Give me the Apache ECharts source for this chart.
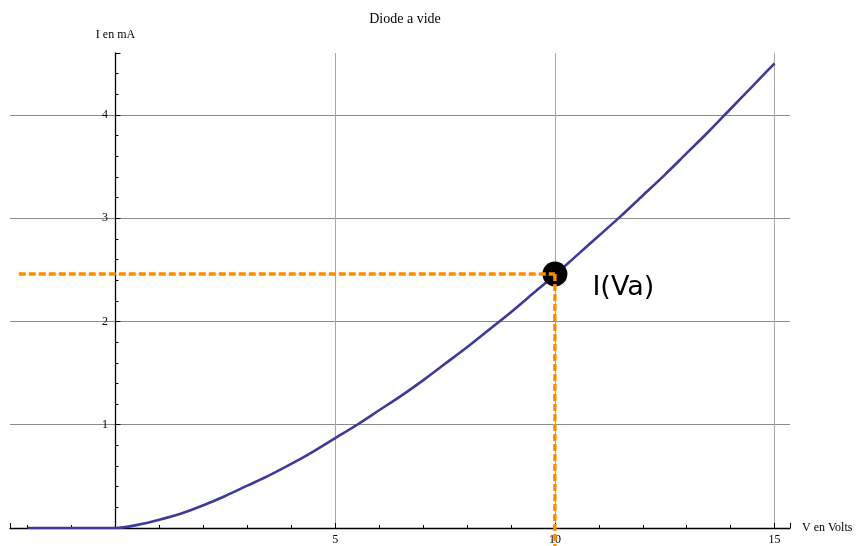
<!DOCTYPE html>
<html>
<head>
<meta charset="utf-8">
<script src="https://cdn.jsdelivr.net/npm/echarts@6/dist/echarts.min.js"></script>
<style>
  html, body { margin: 0; padding: 0; background: #fff; }
  #diode { width: 861px; height: 546px; }
</style>
</head>
<body>
<div id="diode"></div>
<script>
// tension (V) et courant (mA)
var tension = [-2, -1.5, -1, -0.5, 0, 0.5, 1, 1.5, 2, 2.5, 3, 3.5, 4, 4.5, 5, 5.5, 6, 6.5, 7, 7.5,
               8, 8.5, 9, 9.5, 10, 10.5, 11, 11.5, 12, 12.5, 13, 13.5, 14, 14.5, 15];
var courant = [0, 0, 0, 0, 0, 0.03, 0.08, 0.14, 0.22, 0.31, 0.41, 0.51, 0.62, 0.74, 0.87, 1.00, 1.14, 1.28, 1.43, 1.59,
               1.75, 1.92, 2.09, 2.27, 2.45, 2.64, 2.83, 3.02, 3.22, 3.42, 3.63, 3.84, 4.06, 4.28, 4.50];

// point de fonctionnement
var va = 10;
var iva = 2.46;
var repereX = [-2.2, va];      // horizontal dashed line, from left to the point
var repereY = [iva, -0.18];    // vertical dashed line, from the point down below the axis

var serif = 'Liberation Serif';

var curve = tension.map(function (v, i) { return [v, courant[i]]; });

var chart = echarts.init(document.getElementById('diode'));

option = {
    backgroundColor: '#fff',
    animation: false,
    title: {
        text: 'Diode a vide',
        left: 400,
        top: 7,
        textAlign: 'center',
        textStyle: { fontFamily: serif, fontSize: 14, fontWeight: 'normal', color: '#000' }
    },
    grid: { left: 10, right: 71, top: 53, bottom: 18, outerBoundsMode: 'none', containLabel: false },
    xAxis: {
        type: 'value',
        min: -2.4,
        max: 15.35,
        minInterval: 5,
        maxInterval: 5,
        name: 'V en Volts',
        nameLocation: 'end',
        nameGap: 12,
        nameTextStyle: { fontFamily: serif, fontSize: 12, color: '#000' },
        axisLine: { onZero: true, lineStyle: { color: '#000', width: 1.3 } },
        axisTick: { inside: true, length: 5, lineStyle: { color: '#000' } },
        minorTick: { show: true, splitNumber: 5, length: 3, lineStyle: { color: '#000' } },
        axisLabel: {
            fontFamily: serif, fontSize: 12, color: '#000', margin: 6,
            showMinLabel: false, showMaxLabel: false,
            formatter: function (v) { return v > 0 ? String(v) : ''; }
        },
        splitLine: { show: true, showMinLine: false, showMaxLine: false, lineStyle: { color: '#a8a8a8', width: 1 } }
    },
    yAxis: {
        type: 'value',
        min: 0,
        max: 4.6,
        minInterval: 1,
        maxInterval: 1,
        name: 'I en mA',
        nameLocation: 'end',
        nameGap: 12,
        nameTextStyle: { fontFamily: serif, fontSize: 12, color: '#000', align: 'center' },
        axisLine: { onZero: true, lineStyle: { color: '#000', width: 1.3 } },
        axisTick: { inside: true, length: 5, lineStyle: { color: '#000' } },
        minorTick: { show: true, splitNumber: 5, length: 3, lineStyle: { color: '#000' } },
        axisLabel: {
            // labels stay at the grid edge, so pull them back next to the y axis at V = 0
            fontFamily: serif, fontSize: 12, color: '#000', margin: -98,
            showMaxLabel: false,
            formatter: function (v) { return (v > 0 && v % 1 === 0) ? String(v) : ''; }
        },
        splitLine: { show: true, showMinLine: false, showMaxLine: false, lineStyle: { color: '#8c8c8c', width: 1 } }
    },
    series: [
        {
            name: 'courbe',
            type: 'line',
            data: curve,
            showSymbol: false,
            smooth: 0.3,
            lineStyle: { color: '#3d3a98', width: 2.6 },
            z: 3
        },
        {
            name: 'point',
            type: 'scatter',
            data: [[va, iva]],
            symbolSize: 25,
            itemStyle: { color: '#000', opacity: 1 },
            emphasis: { disabled: true },
            label: {
                show: true,
                position: 'right',
                distance: 25,
                offset: [0, 14],
                formatter: 'I(Va)',
                fontFamily: 'DejaVu Sans',
                fontSize: 27,
                color: '#000'
            },
            z: 4
        },
        {
            name: 'repere horizontal',
            type: 'line',
            data: [[repereX[0], iva], [repereX[1], iva]],
            showSymbol: false,
            clip: false,
            lineStyle: { color: '#ff8c00', width: 3.4, type: [7, 3] },
            z: 5
        },
        {
            name: 'repere vertical',
            type: 'line',
            data: [[va, repereY[0]], [va, repereY[1]]],
            showSymbol: false,
            clip: false,
            lineStyle: { color: '#ff8c00', width: 3.4, type: [7, 3] },
            z: 5
        }
    ]
};
chart.setOption(option, true);
</script>
</body>
</html>
